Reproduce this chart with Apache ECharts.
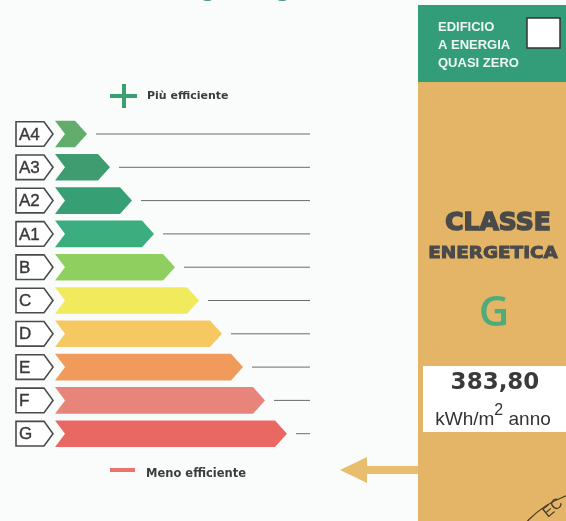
<!DOCTYPE html>
<html lang="it">
<head>
<meta charset="UTF-8">
<title>Classe energetica</title>
<style>
  html, body { margin: 0; padding: 0; background: #fafcfc; }
  #chart { width: 566px; height: 521px; }
</style>
</head>
<body>
<div id="chart"></div>
<script src="https://cdn.jsdelivr.net/npm/echarts@6/dist/echarts.min.js"></script>
<script>
// classi energetiche, dall'alto (piu efficiente) al basso
var classes = ['A4', 'A3', 'A2', 'A1', 'B', 'C', 'D', 'E', 'F', 'G'];
// lunghezza delle frecce (unita dell'asse x)
var arrowLen = [32, 55, 77, 99, 120, 144, 167, 188, 210, 232];
var classColors = ['#62ad6c', '#3f9b70', '#36a074', '#3bad7f', '#8fcf60',
                   '#f1ea5d', '#f6c862', '#f09b5c', '#e8857a', '#ea6863'];
var currentClass = 'G';
var epValue = '383,80';

var chart = echarts.init(document.getElementById('chart'));

var rows = classes.map(function (c, i) { return [arrowLen[i], i]; });

function renderRow(params, api) {
  var idx = api.value(1);
  var len = api.value(0);
  var p0 = api.coord([0, idx]);
  var p1 = api.coord([len, idx]);
  var pEnd = api.coord([255, idx]);
  var band = api.size([0, 1])[1];
  var h = band * 0.8;
  var y = p0[1];
  var x0 = p0[0], xe = p1[0];
  var tip = 12, notch = 10;
  return {
    type: 'group',
    children: [
      {
        type: 'polygon',
        shape: { points: [[x0 - 39, y - h / 2 + 1], [x0 - 11, y - h / 2 + 1], [x0 - 2, y],
                          [x0 - 11, y + h / 2 - 1], [x0 - 39, y + h / 2 - 1]] },
        style: { fill: '#ffffff', stroke: '#4a4a4a', lineWidth: 1.6 }
      },
      {
        type: 'text',
        x: x0 - 36, y: y + 1,
        style: { text: classes[idx], fill: '#3a3a3a', font: '17px "Liberation Sans"',
                 stroke: '#3a3a3a', lineWidth: 0.4,
                 verticalAlign: 'middle', align: 'left' }
      },
      {
        type: 'polygon',
        shape: { points: [[x0, y - h / 2], [xe - tip, y - h / 2], [xe, y],
                          [xe - tip, y + h / 2], [x0, y + h / 2], [x0 + notch, y]] },
        style: { fill: classColors[idx] }
      },
      {
        type: 'line',
        shape: { x1: xe + 9, y1: y, x2: pEnd[0], y2: y },
        style: { stroke: '#6a6a6a', lineWidth: 1 }
      }
    ]
  };
}

var option = {
  backgroundColor: '#fafcfc',
  animation: false,
  grid: { left: 55, top: 117.35, width: 255, height: 333 },
  xAxis: { type: 'value', min: 0, max: 255, show: false },
  yAxis: { type: 'category', data: classes, inverse: true, show: false },
  series: [{
    type: 'custom',
    renderItem: renderRow,
    encode: { x: 0, y: 1 },
    data: rows
  }],
  graphic: [
    // titolo tagliato in alto
    { type: 'text', x: 15, y: 2,
      style: { text: 'Prestazione energetica globale', fill: '#3f9a70',
               font: 'bold 19.5px "DejaVu Sans"', verticalAlign: 'bottom' } },
    // piu efficiente
    { type: 'rect', shape: { x: 110, y: 94, width: 27, height: 4 }, style: { fill: '#3aa072' } },
    { type: 'rect', shape: { x: 122, y: 84, width: 4, height: 24 }, style: { fill: '#3aa072' } },
    { type: 'text', x: 147, y: 96,
      style: { text: 'Più efficiente', fill: '#3c3c3c', font: 'bold 11px "DejaVu Sans"',
               verticalAlign: 'middle' } },
    // meno efficiente
    { type: 'rect', shape: { x: 110, y: 468, width: 25, height: 4 }, style: { fill: '#e9756a' } },
    { type: 'text', x: 146, y: 474,
      style: { text: 'Meno efficiente', fill: '#3c3c3c', font: 'bold 11.5px "DejaVu Sans"',
               verticalAlign: 'middle' } },
    // freccia verso la classe
    { type: 'polygon', shape: { points: [[340, 470], [367, 457], [367, 466], [421, 466],
                                          [421, 474], [367, 474], [367, 483]] },
      style: { fill: '#e9bd6e' } },
    // pannello destro
    { type: 'rect', shape: { x: 418, y: 5, width: 148, height: 77 }, style: { fill: '#339c78' } },
    { type: 'rect', shape: { x: 418, y: 82, width: 148, height: 439 }, style: { fill: '#e4b567' } },
    { type: 'text', x: 438, y: 27,
      style: { text: 'EDIFICIO', fill: '#eef8f2', font: 'bold 13px "Liberation Sans"', verticalAlign: 'middle' } },
    { type: 'text', x: 438, y: 45,
      style: { text: 'A ENERGIA', fill: '#eef8f2', font: 'bold 13px "Liberation Sans"', verticalAlign: 'middle' } },
    { type: 'text', x: 438, y: 63,
      style: { text: 'QUASI ZERO', fill: '#eef8f2', font: 'bold 13px "Liberation Sans"', verticalAlign: 'middle' } },
    { type: 'rect', shape: { x: 527, y: 18, width: 33, height: 30 },
      style: { fill: '#ffffff', stroke: '#333333', lineWidth: 1.5 } },
    { type: 'text', x: 498, y: 223,
      style: { text: 'CLASSE', fill: '#4a4a4a', font: 'bold 25px "DejaVu Sans"',
               stroke: '#4a4a4a', lineWidth: 1.6,
               align: 'center', verticalAlign: 'middle' } },
    { type: 'text', x: 493, y: 254, scaleX: 1.15,
      style: { text: 'ENERGETICA', fill: '#4a4a4a', font: 'bold 16px "DejaVu Sans"',
               stroke: '#4a4a4a', lineWidth: 0.9,
               align: 'center', verticalAlign: 'middle' } },
    { type: 'text', x: 494, y: 314,
      style: { text: currentClass, fill: '#4fab79', font: '600 42px "Open Sans"',
               align: 'center', verticalAlign: 'middle' } },
    { type: 'rect', shape: { x: 423, y: 366, width: 143, height: 66 }, style: { fill: '#ffffff' } },
    { type: 'text', x: 495, y: 383,
      style: { text: epValue, fill: '#3a3a3a', font: 'bold 23px "DejaVu Sans"',
               align: 'center', verticalAlign: 'middle' } },
    { type: 'text', x: 493, y: 416,
      style: { text: '{a|kWh/m}{s|2}{a| anno}', align: 'center', verticalAlign: 'middle',
               rich: { a: { fontSize: 19, fontFamily: 'Liberation Sans', fill: '#333', lineHeight: 27, verticalAlign: 'bottom' },
                       s: { fontSize: 16, fontFamily: 'Liberation Sans', fill: '#333', lineHeight: 16, verticalAlign: 'top' } } } },
    // timbro in basso a destra
    { type: 'arc', shape: { cx: 600, cy: 590, r: 100, startAngle: Math.PI * 1.0, endAngle: Math.PI * 1.5 },
      style: { stroke: '#4a3a2a', lineWidth: 1.2, fill: null } },
    { type: 'text', x: 553, y: 508, rotation: 0.7,
      style: { text: 'EC', fill: '#4a3a2a', font: '15px "Liberation Sans"', align: 'center', verticalAlign: 'middle' } }
  ]
};

chart.setOption(option);
</script>
</body>
</html>
